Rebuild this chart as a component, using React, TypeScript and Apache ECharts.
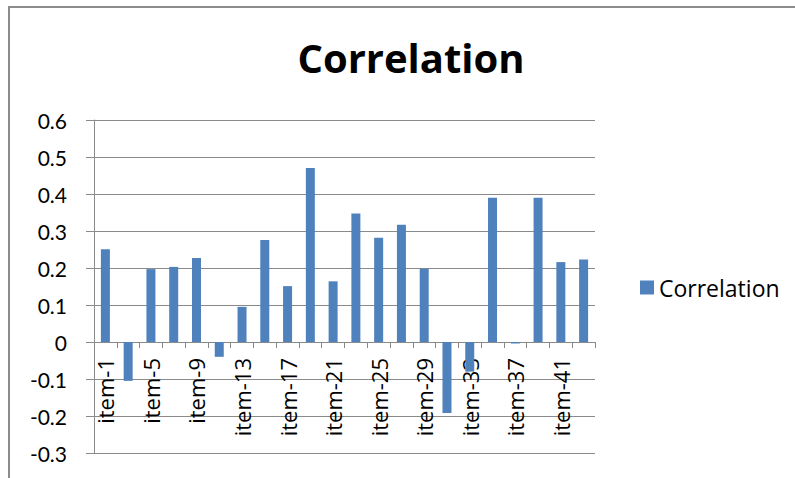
import React, { useEffect, useRef } from "react";
import * as echarts from "echarts";

const categories = [
  "item-1", "item-3", "item-5", "item-7", "item-9", "item-11", "item-13", "item-15",
  "item-17", "item-19", "item-21", "item-23", "item-25", "item-27", "item-29", "item-31",
  "item-33", "item-35", "item-37", "item-39", "item-41", "item-43",
];

const correlation = [
  0.251, -0.105, 0.197, 0.203, 0.227, -0.04, 0.095, 0.276, 0.151, 0.47, 0.164,
  0.347, 0.282, 0.317, 0.198, -0.192, -0.08, 0.39, -0.004, 0.39, 0.216, 0.223,
];

const yTicks = { min: -0.3, max: 0.6, step: 0.1 };

const FONT = "'Open Sans', Lato, sans-serif";
const GRID_COLOR = "#8a8a8a";

// plot area in pixels
const GRID = { left: 94, right: 200, top: 120, bottom: 25 };
const PLOT_H = 478 - GRID.top - GRID.bottom;

export default function App() {
  const ref = useRef<HTMLDivElement>(null);

  useEffect(() => {
    if (!ref.current) return;
    const chart = echarts.init(ref.current, null, { renderer: "svg" });
    // category labels hang just below the zero line
    const zeroFromBottom = (PLOT_H * (0 - yTicks.min)) / (yTicks.max - yTicks.min);
    chart.setOption({
      animation: false,
      backgroundColor: "#ffffff",
      title: {
        text: "Correlation",
        left: 406,
        top: 32,
        textAlign: "center",
        textStyle: { fontFamily: FONT, fontWeight: "bold", fontSize: 40, color: "#000" },
      },
      legend: {
        data: ["Correlation"],
        left: 635,
        top: 271,
        itemWidth: 14,
        itemHeight: 14,
        itemGap: 6,
        icon: "rect",
        textStyle: { fontFamily: FONT, fontSize: 23, color: "#000" },
      },
      grid: {
        ...GRID,
        containLabel: false,
        outerBoundsMode: "none",
      },
      xAxis: {
        type: "category",
        data: categories,
        boundaryGap: true,
        axisLine: { onZero: true, lineStyle: { color: GRID_COLOR, width: 1 } },
        axisTick: { show: true, interval: 0, length: 6, inside: false, lineStyle: { color: GRID_COLOR } },
        axisLabel: {
          interval: 1,
          rotate: 90,
          margin: 16 - zeroFromBottom,
          fontFamily: FONT,
          fontSize: 22,
          color: "#000",
        },
        splitLine: { show: false },
      },
      yAxis: {
        type: "value",
        min: yTicks.min,
        max: yTicks.max,
        interval: yTicks.step,
        axisLine: { show: true, lineStyle: { color: GRID_COLOR, width: 1 } },
        axisTick: { show: true, length: 8, lineStyle: { color: GRID_COLOR } },
        axisLabel: {
          margin: 27,
          fontFamily: "Lato, sans-serif",
          fontSize: 21,
          color: "#000",
          formatter: (v: number) => String(parseFloat(v.toFixed(1))),
        },
        splitLine: { show: true, lineStyle: { color: GRID_COLOR, width: 1 } },
      },
      series: [
        {
          name: "Correlation",
          type: "bar",
          data: correlation,
          barWidth: 9,
          itemStyle: { color: "#4F81BD" },
        },
      ],
      graphic: [
        {
          type: "rect",
          shape: { x: 9, y: 7, width: 800, height: 480 },
          style: { fill: "none", stroke: "#8c8c8c", lineWidth: 2 },
          silent: true,
        },
      ],
    });
    return () => chart.dispose();
  }, []);

  return (
    <div
      ref={ref}
      style={{ position: "fixed", left: 0, top: 0, width: 795, height: 478 }}
    />
  );
}
